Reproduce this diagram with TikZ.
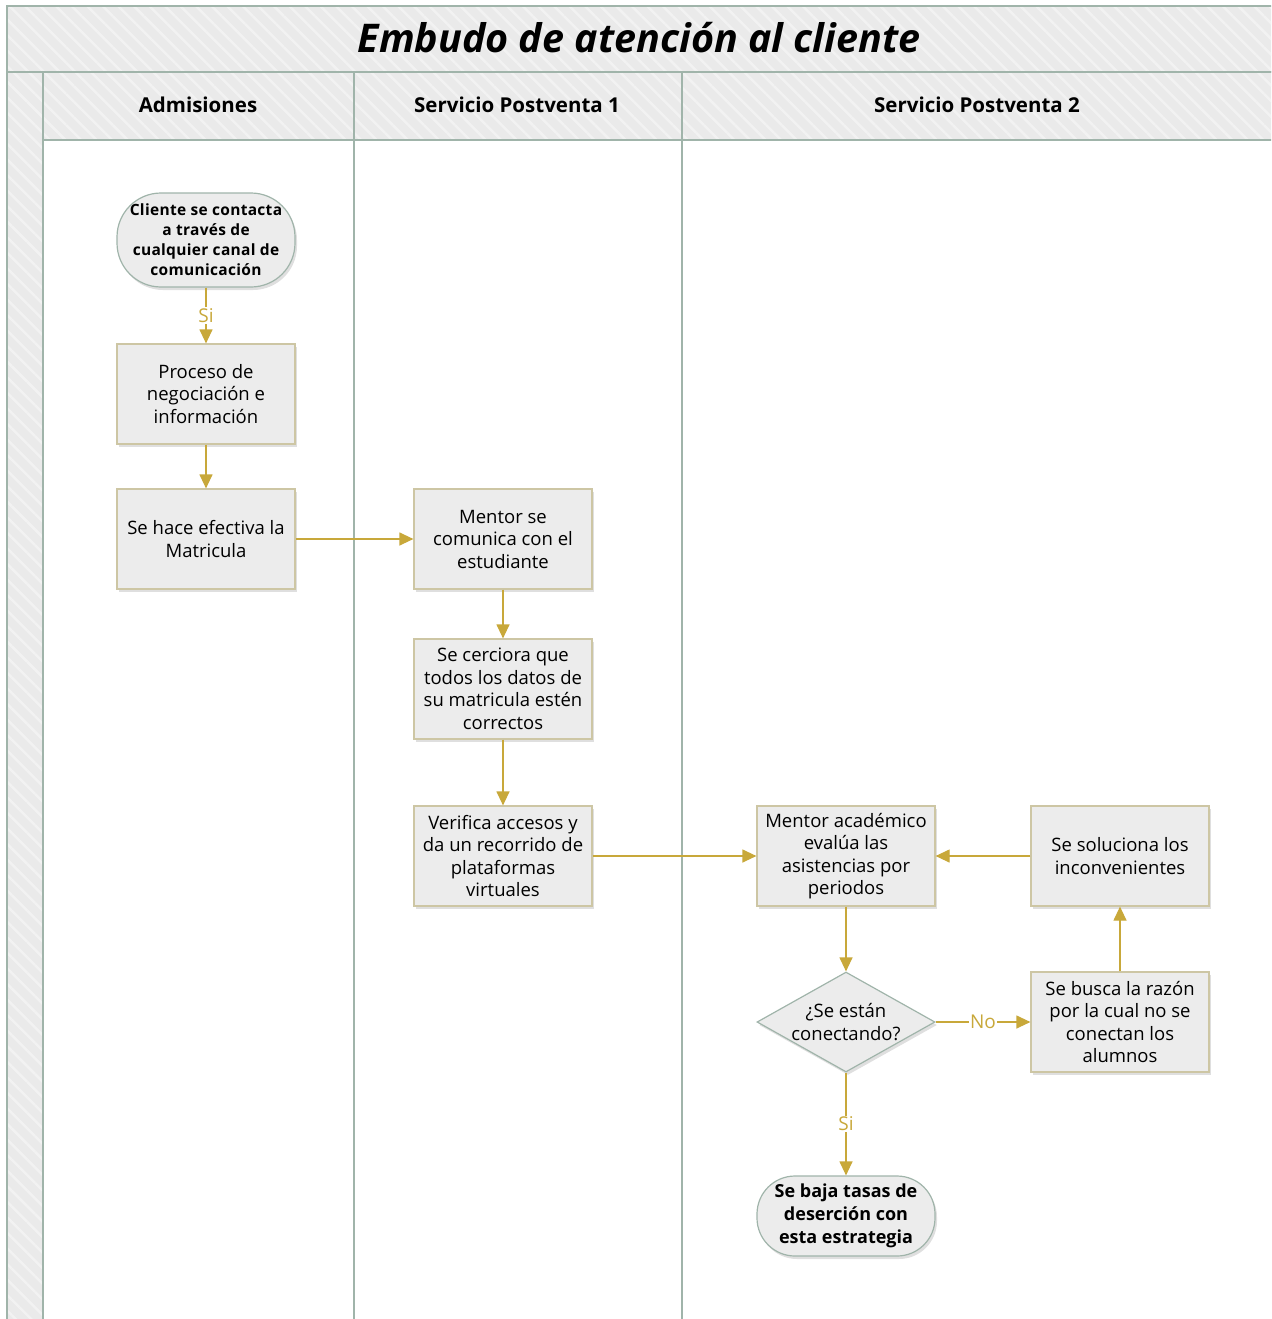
\documentclass[tikz,border=0pt]{standalone}
\usepackage{fontspec}
\setmainfont{Open Sans}
\usepackage{tikz}
\usetikzlibrary{arrows.meta,shapes.geometric,shadows,patterns.meta}

\definecolor{laneline}{RGB}{160,180,170}
\definecolor{bandgray}{RGB}{234,234,234}
\definecolor{boxgray}{RGB}{236,236,236}
\definecolor{boxline}{RGB}{205,198,164}
\definecolor{flowgold}{RGB}{200,168,58}

\begin{document}
\begin{tikzpicture}[x=1pt, y=-1pt, font=\fontsize{18.5}{22.5}\selectfont]
    \tikzstyle{band_style} = [fill=bandgray, postaction={pattern={Lines[angle=-45,distance=11pt,line width=2.5pt]}, pattern color=white!40!bandgray}, postaction={draw=laneline, line width=1.5pt}]
    \tikzstyle{node_box} = [rectangle, draw=boxline, line width=1.2pt, fill=boxgray, minimum width=178pt, minimum height=100pt, inner sep=1pt, align=center, drop shadow={shadow xshift=2pt, shadow yshift=-3pt, opacity=0.25}]
    \tikzstyle{node_term} = [rectangle, rounded corners=44pt, draw=laneline, line width=1.2pt, fill=boxgray, minimum width=178pt, inner sep=1pt, align=center, font=\fontsize{15.5}{20}\selectfont\bfseries\addfontfeatures{LetterSpace=2}, drop shadow={shadow xshift=2pt, shadow yshift=-3pt, opacity=0.25}]
    \tikzstyle{node_decide} = [diamond, aspect=1.78, draw=laneline, line width=1.2pt, fill=boxgray, minimum width=178pt, minimum height=100pt, inner sep=0pt, drop shadow={shadow xshift=2pt, shadow yshift=-3pt, opacity=0.25}]
    \tikzstyle{edge_flow} = [color=flowgold, line width=1.2pt, -{Triangle[length=14pt,width=13pt,fill=flowgold]}]
    \tikzstyle{edge_label} = [fill=white, inner sep=1pt, text=flowgold, font=\fontsize{19}{20}\selectfont]
    \tikzstyle{head_text} = [font=\fontsize{20.5}{24}\selectfont\bfseries]

    \useasboundingbox (0,0) rectangle (1271,1319);
    \clip (0,0) rectangle (1271,1319);

    % pool frame and lanes
    \path[band_style] (7,6) rectangle (1300,72);
    \path[band_style] (7,72) rectangle (43,1340);
    \path[band_style] (43,72) rectangle (354,140);
    \path[band_style] (354,72) rectangle (682,140);
    \path[band_style] (682,72) rectangle (1300,140);
    \draw[laneline, line width=1.5pt] (43,140) -- (43,1340);
    \draw[laneline, line width=1.5pt] (354,140) -- (354,1340);
    \draw[laneline, line width=1.5pt] (682,140) -- (682,1340);

    \node[font=\fontsize{39.5}{42}\selectfont\bfseries\itshape] (titulo) at (639,38) {Embudo de atención al cliente};
    \node[head_text] (h_admisiones) at (198,105) {Admisiones};
    \node[head_text] (h_postventa1) at (517,105) {Servicio Postventa 1};
    \node[head_text] (h_postventa2) at (977,105) {Servicio Postventa 2};

    % steps
    \node[node_term, minimum height=94pt] (inicio) at (206,240) {Cliente se contacta\\a través de\\cualquier canal de\\comunicación};
    \node[node_box] (proceso) at (206,394) {Proceso de\\negociación e\\información};
    \node[node_box] (matricula) at (206,539) {Se hace efectiva la\\Matricula};
    \node[node_box] (mentor) at (503,539) {Mentor se\\comunica con el\\estudiante};
    \node[node_box] (cerciora) at (503,689) {Se cerciora que\\todos los datos de\\su matricula estén\\correctos};
    \node[node_box] (verifica) at (503,856) {Verifica accesos y\\da un recorrido de\\plataformas\\virtuales};
    \node[node_box] (evalua) at (846,856) {Mentor académico\\evalúa las\\asistencias por\\periodos};
    \node[node_box] (soluciona) at (1120,856) {Se soluciona los\\inconvenientes};
    \node[node_decide, label={[align=center]center:¿Se están\\conectando?}] (conecta) at (846,1022) {};
    \node[node_box] (busca) at (1120,1022) {Se busca la razón\\por la cual no se\\conectan los\\alumnos};
    \node[node_term, minimum height=80pt, rounded corners=38pt, font=\fontsize{18}{23}\selectfont\bfseries] (fin) at (846,1216) {Se baja tasas de\\deserción con\\esta estrategia};

    % flow
    \draw[edge_flow] (inicio) edge node[edge_label] {Si} (proceso);
    \draw[edge_flow] (proceso) edge (matricula);
    \draw[edge_flow] (matricula) edge (mentor);
    \draw[edge_flow] (mentor) edge (cerciora);
    \draw[edge_flow] (cerciora) edge (verifica);
    \draw[edge_flow] (verifica) edge (evalua);
    \draw[edge_flow] (soluciona) edge (evalua);
    \draw[edge_flow] (evalua) edge (conecta);
    \draw[edge_flow] (conecta) edge node[edge_label] {No} (busca);
    \draw[edge_flow] (busca) edge (soluciona);
    \draw[edge_flow] (conecta) edge node[edge_label] {Si} (fin);
\end{tikzpicture}
\end{document}
